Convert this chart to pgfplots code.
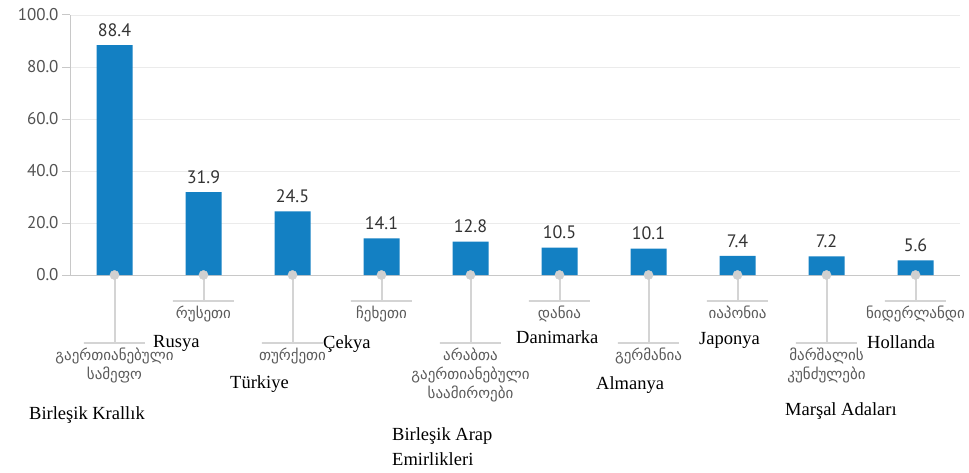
\documentclass[border=0pt]{standalone}
\usepackage{fontspec}
\setmainfont{Liberation Serif}
\newfontfamily\ptsans{PT Sans}
\newfontfamily\geo{DejaVu Sans}
\usepackage{pgfplots}
\pgfplotsset{compat=1.18}
\definecolor{barblue}{HTML}{1380C3}
\definecolor{axgray}{HTML}{C8C8C8}
\definecolor{gridgray}{HTML}{EBEBEB}
\definecolor{leadgray}{HTML}{D4D4D4}
\definecolor{dotgray}{HTML}{D0D0D0}
\definecolor{txtdark}{HTML}{333333}
\definecolor{geogray}{HTML}{5A5A5A}
\begin{document}
\begin{tikzpicture}
\useasboundingbox (0pt,0pt) rectangle (969pt,472pt);
\begin{axis}[
  at={(70pt,197pt)}, anchor=south west,
  scale only axis, width=890pt, height=260pt,
  xmin=-0.5, xmax=9.5, ymin=0, ymax=100,
  clip=false,
  axis x line*=bottom, axis y line*=left,
  axis line style={axgray, line width=1pt},
  xtick=\empty,
  ytick={0,20,40,60,80,100},
  ymajorgrids, grid style={gridgray, line width=0.8pt},
  tick align=outside, major tick length=8pt,
  ytick style={axgray, line width=1pt},
  /pgf/number format/.cd, fixed, fixed zerofill, precision=1, assume math mode=true,
  /pgfplots/.cd,
  yticklabel style={font=\ptsans\fontsize{17}{17}\selectfont, text=txtdark!85},
]
\addplot[ybar, bar width=36pt, fill=barblue, draw=none,
  nodes near coords,
  every node near coord/.append style={font=\ptsans\fontsize{18}{18}\selectfont, text=txtdark, yshift=5pt,
    /pgf/number format/fixed, /pgf/number format/fixed zerofill, /pgf/number format/precision=1, /pgf/number format/assume math mode=true}]
  coordinates {(0,88.4) (1,31.9) (2,24.5) (3,14.1) (4,12.8) (5,10.5) (6,10.1) (7,7.4) (8,7.2) (9,5.6)};
% leader lines
\pgfplotsset{leader/.style={leadgray, line width=2pt}}
\addplot[leader] coordinates {(0,0) (0,-26.2) (-0.345,-26.2) (0.345,-26.2)};
\addplot[leader] coordinates {(1,0) (1,-10) (0.655,-10) (1.345,-10)};
\addplot[leader] coordinates {(2,0) (2,-26.2) (1.655,-26.2) (2.345,-26.2)};
\addplot[leader] coordinates {(3,0) (3,-10) (2.655,-10) (3.345,-10)};
\addplot[leader] coordinates {(4,0) (4,-26.2) (3.655,-26.2) (4.345,-26.2)};
\addplot[leader] coordinates {(5,0) (5,-10) (4.655,-10) (5.345,-10)};
\addplot[leader] coordinates {(6,0) (6,-26.2) (5.655,-26.2) (6.345,-26.2)};
\addplot[leader] coordinates {(7,0) (7,-10) (6.655,-10) (7.345,-10)};
\addplot[leader] coordinates {(8,0) (8,-26.2) (7.655,-26.2) (8.345,-26.2)};
\addplot[leader] coordinates {(9,0) (9,-10) (8.655,-10) (9.345,-10)};
% dots
\addplot[dotgray, only marks, mark=*, mark size=4.6pt, mark options={fill=dotgray, draw=dotgray}]
  coordinates {(0,0) (1,0) (2,0) (3,0) (4,0) (5,0) (6,0) (7,0) (8,0) (9,0)};
% Georgian labels
\tikzset{geolab/.style={anchor=north, align=center, inner sep=0pt, yshift=-5pt, text=geogray, font=\geo\fontsize{15}{19}\selectfont}}
\node[geolab] at (axis cs:0,-26.2) {გაერთიანებული\\სამეფო};
\node[geolab] at (axis cs:1,-10) {რუსეთი};
\node[geolab] at (axis cs:2,-26.2) {თურქეთი};
\node[geolab] at (axis cs:3,-10) {ჩეხეთი};
\node[geolab] at (axis cs:4,-26.2) {არაბთა\\გაერთიანებული\\საამიროები};
\node[geolab] at (axis cs:5,-10) {დანია};
\node[geolab] at (axis cs:6,-26.2) {გერმანია};
\node[geolab] at (axis cs:7,-10) {იაპონია};
\node[geolab] at (axis cs:8,-26.2) {მარშალის\\კუნძულები};
\node[geolab] at (axis cs:9,-10) {ნიდერლანდი};
% Turkish labels
\tikzset{trlab/.style={anchor=base west, inner sep=0pt, text=black, font=\fontsize{18.5}{18.5}\selectfont}}
\node[trlab] at (axis cs:0.433,-27.7) {Rusya};
\node[trlab] at (axis cs:-0.961,-55.4) {Birleşik Krallık};
\node[trlab] at (axis cs:1.298,-43.5) {Türkiye};
\node[trlab] at (axis cs:2.343,-28.1) {Çekya};
\node[trlab] at (axis cs:3.118,-63.5) {Birleşik Arap};
\node[trlab] at (axis cs:3.118,-73.1) {Emirlikleri};
\node[trlab] at (axis cs:4.511,-26.2) {Danimarka};
\node[trlab] at (axis cs:5.410,-44.2) {Almanya};
\node[trlab] at (axis cs:6.567,-26.9) {Japonya};
\node[trlab] at (axis cs:7.534,-54.2) {Marşal Adaları};
\node[trlab] at (axis cs:8.455,-28.1) {Hollanda};
\end{axis}
\end{tikzpicture}
\end{document}
